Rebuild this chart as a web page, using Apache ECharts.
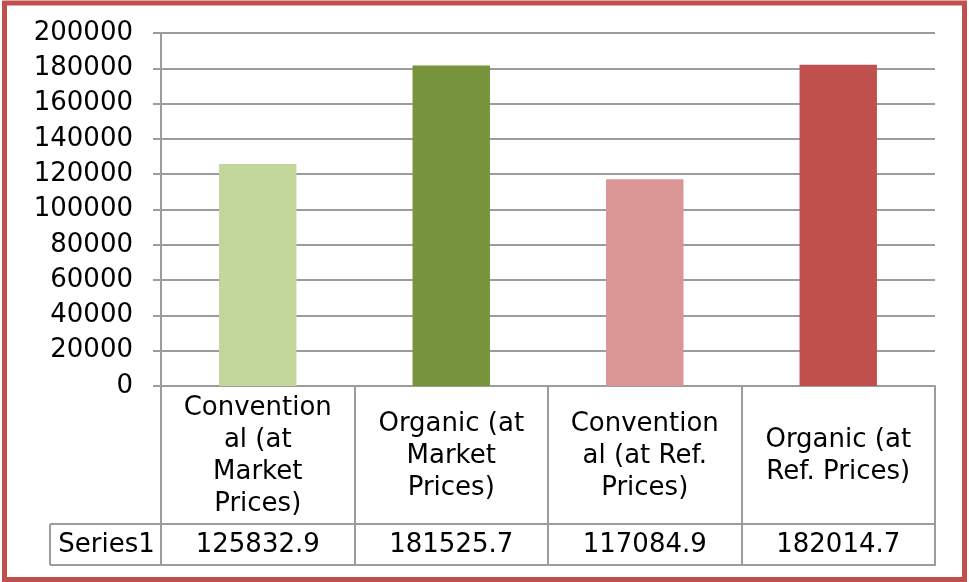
<!DOCTYPE html>
<html><head><meta charset="utf-8">
<script src="https://cdn.jsdelivr.net/npm/echarts@6/dist/echarts.min.js"></script>
<style>html,body{margin:0;padding:0;background:#fff;}#c{width:969px;height:582px;}</style>
</head><body><div id="c"></div>
<script>
// Data
var categories = ['Conventional (at Market Prices)', 'Organic (at Market Prices)', 'Conventional (at Ref. Prices)', 'Organic (at Ref. Prices)'];
var categoryLabels = ['Convention\nal (at\nMarket\nPrices)', 'Organic (at\nMarket\nPrices)', 'Convention\nal (at Ref.\nPrices)', 'Organic (at\nRef. Prices)'];
var seriesName = 'Series1';
var values = [125832.9, 181525.7, 117084.9, 182014.7];
var barColors = ['#C3D69B', '#77933C', '#D99694', '#C0504D'];
var yMin = 0, yMax = 200000, yStep = 20000;

var FONT = 'DejaVu Sans';
var FS = 26;
var GRID = '#9c9c9c';
var gL = 161, gR = 935, gT = 33, gB = 386;
var tableBottom = 565, rowSplit = 524, seriesCellLeft = 50;

var chart = echarts.init(document.getElementById('c'));
chart.setOption({
  animation: false,
  textStyle: {fontFamily: FONT},
  grid: {left: gL, right: 969 - gR, top: gT, bottom: 582 - gB, containLabel: false},
  xAxis: [{
    type: 'category', data: categoryLabels, position: 'bottom',
    axisLine: {show: true, lineStyle: {color: GRID, width: 2}},
    axisTick: {show: true, interval: 0, length: tableBottom - gB, lineStyle: {color: GRID, width: 2}},
    axisLabel: {interval: 0, margin: 70, verticalAlign: 'middle', align: 'center', lineHeight: 32,
      fontSize: FS, color: '#000', fontFamily: FONT}
  }, {
    type: 'category', data: values.map(function (v) { return v.toFixed(1); }), position: 'bottom', offset: 0,
    axisLine: {show: false}, axisTick: {show: false},
    axisLabel: {interval: 0, margin: 159, verticalAlign: 'middle', align: 'center', fontSize: FS, color: '#000', fontFamily: FONT}
  }],
  yAxis: {
    type: 'value', min: yMin, max: yMax, interval: yStep,
    axisLine: {show: true, lineStyle: {color: GRID, width: 2}},
    axisTick: {show: true, length: 8, lineStyle: {color: GRID, width: 2}},
    splitLine: {show: true, lineStyle: {color: GRID, width: 2}},
    axisLabel: {margin: 28, fontSize: FS, color: '#000', fontFamily: FONT,
      formatter: function (v) { return String(v); }}
  },
  series: [{
    name: seriesName, type: 'bar', barWidth: '40%', xAxisIndex: 0,
    data: values.map(function (v, i) { return {value: v, itemStyle: {color: barColors[i]}}; })
  }],
  graphic: [
    {type: 'rect', shape: {x: 4.5, y: 3, width: 960, height: 576.5}, style: {fill: 'none', stroke: '#C0504D', lineWidth: 5}, z: 100},
    {type: 'line', shape: {x1: seriesCellLeft, y1: rowSplit, x2: gR + 1, y2: rowSplit}, style: {stroke: GRID, lineWidth: 2}},
    {type: 'line', shape: {x1: seriesCellLeft, y1: tableBottom, x2: gR + 1, y2: tableBottom}, style: {stroke: GRID, lineWidth: 2}},
    {type: 'line', shape: {x1: seriesCellLeft, y1: rowSplit, x2: seriesCellLeft, y2: tableBottom}, style: {stroke: GRID, lineWidth: 2}},
    {type: 'text', x: (seriesCellLeft + gL) / 2 + 1, y: (rowSplit + tableBottom) / 2 + 1,
      style: {text: seriesName, font: FS + 'px "DejaVu Sans"', fill: '#000', textAlign: 'center', textVerticalAlign: 'middle'}}
  ]
});
</script></body></html>
